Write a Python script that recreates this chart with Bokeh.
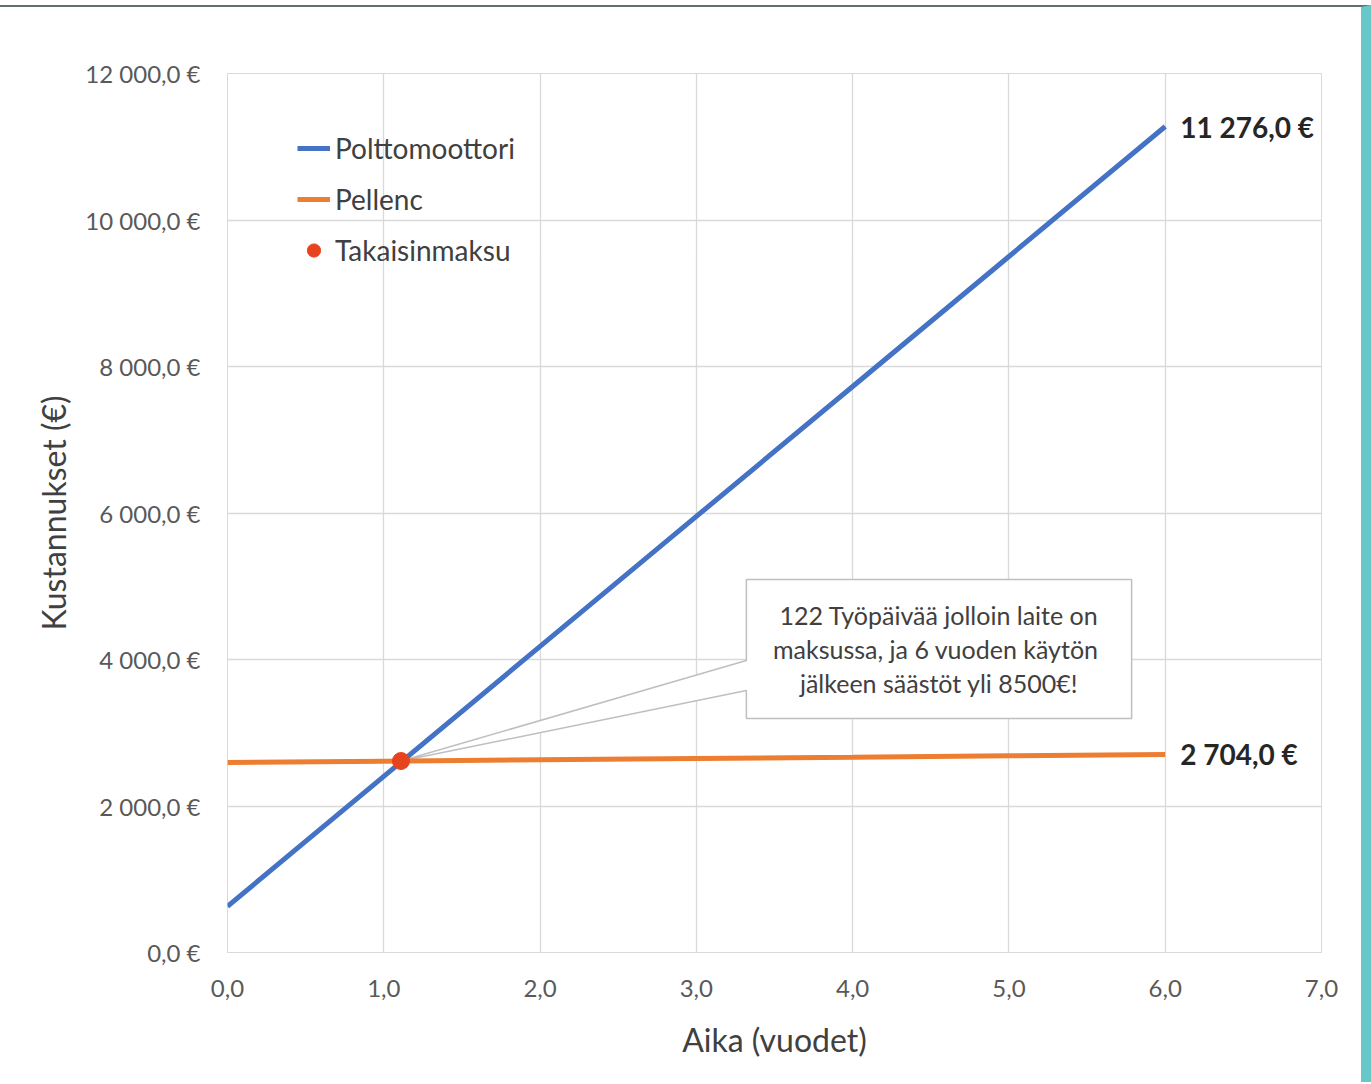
from bokeh.plotting import figure
from bokeh.models import ColumnDataSource, FixedTicker, Legend, LegendItem, Label, Range1d
from bokeh.core.properties import value
from bokeh.embed import file_html
from bokeh.resources import INLINE

# ---- data ----
years = [0, 1, 2, 3, 4, 5, 6]
polttomoottori = [630, 2404, 4179, 5953, 7727, 9502, 11276]
pellenc = [2594, 2612, 2631, 2649, 2667, 2686, 2704]
payback_x = [1.11]
payback_y = [2614]

x_ticks = [0, 1, 2, 3, 4, 5, 6, 7]
x_tick_labels = ["0,0", "1,0", "2,0", "3,0", "4,0", "5,0", "6,0", "7,0"]
y_ticks = [0, 2000, 4000, 6000, 8000, 10000, 12000]
y_tick_labels = ["0,0 €", "2 000,0 €", "4 000,0 €", "6 000,0 €", "8 000,0 €", "10 000,0 €", "12 000,0 €"]

end_labels = ["11 276,0 €", "2 704,0 €"]
callout_lines = ["122 Työpäivää jolloin laite on",
                 "maksussa, ja 6 vuoden  käytön",
                 "jälkeen säästöt yli 8500€!"]
# callout box (data coords) and pointer base on its left edge
callout_left, callout_right = 3.32, 5.785
callout_top, callout_bottom = 5092, 3195
pointer_upper, pointer_lower = 3986, 3577

FONT = "Lato"
BLUE = "#4472C4"
ORANGE = "#ED7D31"
RED = "#E8431F"
GRID = "#d9d9d9"

p = figure(width=1371, height=1077, output_backend="svg", toolbar_location=None,
           x_range=Range1d(0, 7), y_range=Range1d(0, 12000),
           min_border_left=227, min_border_right=50, min_border_top=66, min_border_bottom=132)
p.background_fill_color = "white"
p.border_fill_color = "white"
p.outline_line_color = GRID
# page decorations: thin dark rule on top, teal strip on the right
p.styles = {"margin-top": "5px", "border-top": "2px solid #5f7272",
            "border-right": "10px solid #66c8c8"}

p.xgrid.ticker = FixedTicker(ticks=x_ticks)
p.ygrid.ticker = FixedTicker(ticks=y_ticks)
p.xgrid.grid_line_color = GRID
p.ygrid.grid_line_color = GRID
p.xgrid.grid_line_width = 1.3
p.ygrid.grid_line_width = 1.3

p.xaxis.ticker = FixedTicker(ticks=x_ticks)
p.yaxis.ticker = FixedTicker(ticks=y_ticks)
p.xaxis.major_label_overrides = {t: l for t, l in zip(x_ticks, x_tick_labels)}
p.yaxis.major_label_overrides = {t: l for t, l in zip(y_ticks, y_tick_labels)}
for ax in (p.xaxis, p.yaxis):
    ax.major_tick_line_color = None
    ax.minor_tick_line_color = None
    ax.major_label_text_font = FONT
    ax.major_label_text_font_size = "24px"
    ax.major_label_text_color = "#595959"
    ax.axis_label_text_font = FONT
    ax.axis_label_text_font_size = "32px"
    ax.axis_label_text_font_style = "normal"
    ax.axis_label_text_color = "#404040"
p.xaxis.axis_line_color = GRID
p.yaxis.axis_line_color = None
p.xaxis.major_label_standoff = 21
p.yaxis.major_label_standoff = 21
p.xaxis.axis_label = "Aika (vuodet)"
p.yaxis.axis_label = "Kustannukset (€)"
p.xaxis.axis_label_standoff = 20
p.yaxis.axis_label_standoff = 9

# callout shape
cx = [callout_left, callout_right, callout_right, callout_left, callout_left,
      payback_x[0], callout_left, callout_left]
cy = [callout_top, callout_top, callout_bottom, callout_bottom, pointer_lower,
      payback_y[0], pointer_upper, callout_top]
p.patch(cx, cy, fill_color="white", line_color="#bfbfbf", line_width=1.5)

src = ColumnDataSource(dict(x=years, a=polttomoottori, b=pellenc))
r_blue = p.line("x", "a", source=src, line_color=BLUE, line_width=5)
r_orange = p.line("x", "b", source=src, line_color=ORANGE, line_width=5)
r_dot = p.scatter(payback_x, payback_y, size=17, fill_color=RED, line_color=RED)

legend = Legend(items=[LegendItem(label="Polttomoottori", renderers=[r_blue]),
                       LegendItem(label="Pellenc", renderers=[r_orange]),
                       LegendItem(label="Takaisinmaksu", renderers=[r_dot])],
                location=(70, 685), orientation="vertical")
legend.background_fill_alpha = 0
legend.border_line_color = None
legend.padding = 0
legend.margin = 0
legend.spacing = 17
legend.glyph_width = 33
legend.glyph_height = 34
legend.label_height = 34
legend.label_standoff = 5
legend.label_text_font = FONT
legend.label_text_font_size = "28px"
legend.label_text_color = "#404040"
p.add_layout(legend)

# end value labels
for yy, txt in zip([polttomoottori[-1], pellenc[-1]], end_labels):
    p.add_layout(Label(x=years[-1], y=yy, text=txt, x_offset=15,
                       text_baseline="middle", text_font=FONT, text_font_style="bold",
                       text_font_size="28px", text_color="#262626"))

# callout text
mid_x = (callout_left + callout_right) / 2
mid_y = (callout_top + callout_bottom) / 2
for i, line in enumerate(callout_lines):
    p.add_layout(Label(x=mid_x, y=mid_y, text=line, y_offset=34 * (1 - i),
                       text_align="center", text_baseline="middle",
                       text_font=FONT, text_font_size="25px", text_color="#404040"))

open("out.html", "w").write(file_html(p, INLINE))
